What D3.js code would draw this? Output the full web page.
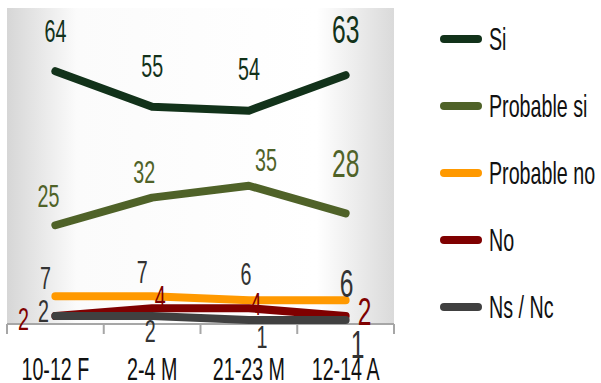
<!DOCTYPE html>
<html>
<head>
<meta charset="utf-8">
<script src="https://cdn.jsdelivr.net/npm/d3@7"></script>
<style>
  body { margin: 0; background: #fff; }
  text { font-family: "Liberation Sans", Arial, sans-serif; }
</style>
</head>
<body>
<div id="chart"></div>
<script>
var categories = ["10-12 F", "2-4 M", "21-23 M", "12-14 A"];
var seriesNames = ["Si", "Probable si", "Probable no", "No", "Ns / Nc"];
var si = [64, 55, 54, 63];
var probableSi = [25, 32, 35, 28];
var probableNo = [7, 7, 6, 6];
var no = [2, 4, 4, 2];
var nsnc = [2, 2, 1, 1];

var colors = ["#12321a", "#4f6228", "#ff9900", "#7f0000", "#404040"];
var labelColors = ["#12321a", "#4f6228", "#333333", "#7f0000", "#333333"];
// label offsets from each point (dx, dy to label centre)
var labelOffsets = [
  [[0, -40], [0, -41], [0, -42], [0, -46]],
  [[-7, -29], [-8, -26], [17, -26], [0, -50]],
  [[-10, -19], [-10, -25], [-3, -26], [1, -17]],
  [[-32, 3], [8, -11], [7, -4], [19, -5]],
  [[-12, -5], [-2, 15], [13, 17], [12, 24]]
];

var w = 601, h = 383;
var plotLeft = 7, plotRight = 394, plotTop = 8, plotBottom = 324;
var sx = 0.82, sy = 1.3;

var svg = d3.select("#chart").append("svg")
  .attr("width", w)
  .attr("height", h);

var grad = svg.append("defs").append("linearGradient")
  .attr("id", "bg").attr("x1", "0").attr("x2", "1").attr("y1", "0").attr("y2", "0");
grad.append("stop").attr("offset", "0").attr("stop-color", "#d6d6d6");
grad.append("stop").attr("offset", "0.18").attr("stop-color", "#fbfbfb");
grad.append("stop").attr("offset", "0.8").attr("stop-color", "#ffffff");
grad.append("stop").attr("offset", "1").attr("stop-color", "#dadada");

svg.append("rect")
  .attr("x", plotLeft).attr("y", plotTop)
  .attr("width", plotRight - plotLeft).attr("height", plotBottom - plotTop)
  .attr("fill", "url(#bg)");

var x = d3.scaleBand()
  .domain(categories)
  .range([plotLeft, plotRight]);

var y = d3.scaleLinear()
  .domain([0, 80])
  .range([plotBottom, plotTop]);

function addText(g, px, py, str, size, color, anchor) {
  // py is baseline; text squeezed and stretched like the original's narrow font
  return g.append("text")
    .attr("transform", "translate(" + px + "," + py + ") scale(" + sx + "," + sy + ")")
    .attr("text-anchor", anchor || "middle")
    .style("font-size", size + "px")
    .style("fill", color)
    .text(str);
}

// axis line and ticks
var axisG = svg.append("g").attr("class", "x axis");
axisG.append("line")
  .attr("x1", plotLeft).attr("x2", plotRight)
  .attr("y1", plotBottom).attr("y2", plotBottom)
  .attr("stroke", "#a6a6a6").attr("stroke-width", 2);
var edges = categories.map(function(c){ return x(c); });
edges.push(x(categories[categories.length - 1]) + x.bandwidth());
axisG.selectAll("line.tick")
  .data(edges)
  .enter().append("line")
  .attr("class", "tick")
  .attr("x1", function(d){ return d; }).attr("x2", function(d){ return d; })
  .attr("y1", plotBottom).attr("y2", plotBottom + 10)
  .attr("stroke", "#a6a6a6").attr("stroke-width", 2);

categories.forEach(function(c){
  addText(axisG, x(c) + x.bandwidth() / 2, 380, c, 24, "#111");
});

var allSeries = [si, probableSi, probableNo, no, nsnc];

var line = d3.line()
  .x(function(d, i){ return x(categories[i]) + x.bandwidth() / 2; })
  .y(function(d){ return y(d); });

allSeries.forEach(function(vals, s){
  svg.append("path")
    .datum(vals)
    .attr("d", line)
    .attr("fill", "none")
    .attr("stroke", colors[s])
    .attr("stroke-width", 8)
    .attr("stroke-linecap", "round")
    .attr("stroke-linejoin", "round");
});

allSeries.forEach(function(vals, s){
  vals.forEach(function(v, i){
    var big = i === vals.length - 1;
    var size = big ? 30 : 24;
    var capHalf = size * 0.716 * sy / 2;
    var px = x(categories[i]) + x.bandwidth() / 2 + labelOffsets[s][i][0];
    var py = y(v) + labelOffsets[s][i][1] + capHalf;
    addText(svg, px, py, v, size, labelColors[s]);
  });
});

// legend
var legend = svg.append("g").attr("class", "legend");
seriesNames.forEach(function(name, s){
  var ly = 39 + s * 67;
  legend.append("line")
    .attr("x1", 444).attr("x2", 478)
    .attr("y1", ly).attr("y2", ly)
    .attr("stroke", colors[s])
    .attr("stroke-width", 8)
    .attr("stroke-linecap", "round");
  addText(legend, 489, ly + 11, name, 24, "#111", "start");
});
</script>
</body>
</html>
